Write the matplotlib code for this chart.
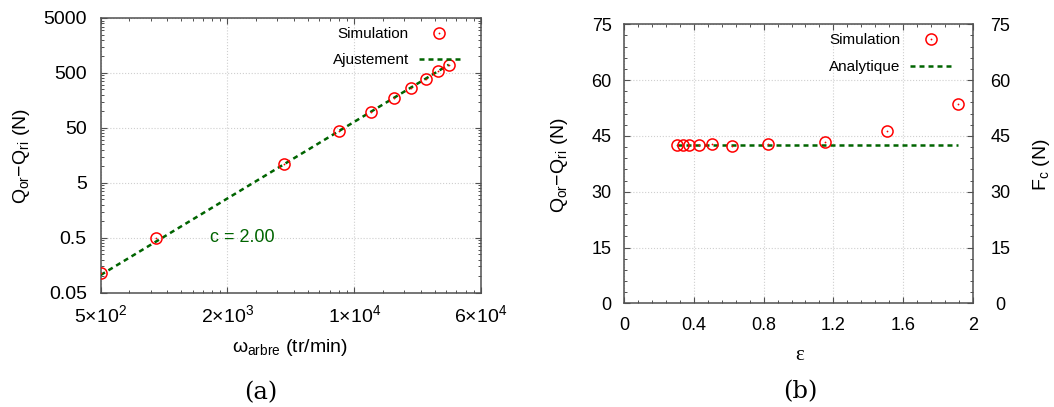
import matplotlib
matplotlib.use('Agg')
import matplotlib.pyplot as plt
import numpy as np
from matplotlib.ticker import FixedLocator, FixedFormatter, NullFormatter
from matplotlib.legend_handler import HandlerTuple

plt.rcParams['font.family'] = ['Liberation Sans', 'DejaVu Sans']
plt.rcParams['mathtext.default'] = 'regular'

# panel (a): force difference vs shaft speed
omega = [500, 1000, 5000, 10000, 15000, 20000, 25000, 30000, 35000, 40000]
dq_sim = [0.115, 0.49, 10.9, 43.9, 97.3, 173, 269, 393, 542, 706]
omega_fit = [500, 40000]
dq_fit = [0.105, 706]
x_labels_a = [r'$5{\times}10^{2}$', r'$2{\times}10^{3}$', r'$1{\times}10^{4}$', r'$6{\times}10^{4}$']
y_ticks_a = [0.05, 0.5, 5, 50, 500, 5000]
y_labels_a = ['0.05', '0.5', '5', '50', '500', '5000']

# panel (b): force difference vs epsilon
eps = [0.304, 0.339, 0.373, 0.427, 0.503, 0.618, 0.826, 1.150, 1.510, 1.917]
dq_eps = [42.55, 42.55, 42.55, 42.55, 42.74, 42.37, 42.74, 43.36, 46.4, 53.5]
eps_ana = [0.304, 1.917]
dq_ana = [42.55, 42.55]
x_ticks_b = [0, 0.4, 0.8, 1.2, 1.6, 2]
x_labels_b = ['0', '0.4', '0.8', '1.2', '1.6', '2']
y_ticks_b = [0, 15, 30, 45, 60, 75]

W, H = 1054, 407
RED = '#ff0000'
GREEN = '#006400'
FRAME = '#505050'

fig = plt.figure(figsize=(W / 100, H / 100), dpi=100)


def px_axes(l, t, r, b):
    return fig.add_axes([l / W, 1 - b / H, (r - l) / W, (b - t) / H])


def style(ax, size):
    for s in ax.spines.values():
        s.set_color(FRAME)
        s.set_linewidth(1.1)
    ax.tick_params(which='both', direction='in', top=True, right=True, color=FRAME, labelsize=size)
    ax.tick_params(which='major', length=4.5, width=0.8)
    ax.tick_params(which='minor', length=2.2, width=0.7)
    ax.grid(True, which='major', color='#cfcfcf', linestyle=':', linewidth=0.8)


def sim_points(ax, x, y):
    circ, = ax.plot(x, y, 'o', ms=8, mfc='none', mec=RED, mew=1.1, zorder=4)
    dot, = ax.plot(x, y, 'o', ms=1.3, mfc=RED, mec='none', zorder=4)
    return circ, dot


# ---------------- (a)
ax1 = px_axes(100.7, 18, 481, 292.7)
style(ax1, 14)
ax1.set_xscale('log')
ax1.set_yscale('log')
ax1.set_xlim(500, 60000)
ax1.set_ylim(0.05, 5000)

xt = np.geomspace(500, 60000, len(x_labels_a))
ax1.xaxis.set_major_locator(FixedLocator(xt))
ax1.xaxis.set_major_formatter(FixedFormatter(x_labels_a))
xminor = np.concatenate([np.linspace(a, b, 10)[1:-1] for a, b in zip(xt[:-1], xt[1:])])
ax1.xaxis.set_minor_locator(FixedLocator(xminor))
ax1.xaxis.set_minor_formatter(NullFormatter())
ax1.yaxis.set_major_locator(FixedLocator(y_ticks_a))
ax1.yaxis.set_major_formatter(FixedFormatter(y_labels_a))
yminor = [m * k for m in y_ticks_a[:-1] for k in range(2, 10)]
ax1.yaxis.set_minor_locator(FixedLocator(yminor))
ax1.yaxis.set_minor_formatter(NullFormatter())
ax1.tick_params(axis='x', pad=8)
ax1.tick_params(axis='y', pad=10)

fit_line, = ax1.plot(omega_fit, dq_fit, color=GREEN, lw=1.8, dashes=(2.0, 1.6), zorder=3)
c1, d1 = sim_points(ax1, omega, dq_sim)
ax1.text(1980, 0.5, 'c = 2.00', color=GREEN, fontsize=13, va='center', ha='left')
ax1.legend([(c1, d1), fit_line], ['Simulation', 'Ajustement'],
           handler_map={tuple: HandlerTuple(ndivide=1)},
           loc='upper right', bbox_to_anchor=(460 / W, 1 - 27 / H),
           bbox_transform=fig.transFigure, frameon=False, markerfirst=False,
           fontsize=11, handlelength=2.7, handletextpad=0.65, labelspacing=0.78,
           borderpad=0, borderaxespad=0)

fig.text(22 / W, 1 - 156 / H, r'Q$_{or}$−Q$_{ri}$ (N)', rotation=90, ha='center', va='center', fontsize=14)
fig.text(290 / W, 1 - 352 / H, r'ω$_{arbre}$ (tr/min)', ha='center', va='baseline', fontsize=14)
fig.text(260.7 / W, 1 - 392.7 / H, '(a)', ha='center', va='center', fontsize=17.5, family='DejaVu Serif')

# ---------------- (b)
ax2 = px_axes(624.3, 24.3, 972.7, 303.3)
style(ax2, 13)
ax2.set_xlim(0, 2)
ax2.set_ylim(0, 75)
ax2.xaxis.set_major_locator(FixedLocator(x_ticks_b))
ax2.xaxis.set_major_formatter(FixedFormatter(x_labels_b))
ax2.xaxis.set_minor_locator(FixedLocator(np.arange(0, 2.0001, 0.08)))
ax2.yaxis.set_major_locator(FixedLocator(y_ticks_b))
ax2.yaxis.set_minor_locator(FixedLocator(np.arange(0, 75.001, 3)))
ax2.tick_params(axis='x', pad=10)
ax2.tick_params(axis='y', pad=9)

ana_line, = ax2.plot(eps_ana, dq_ana, color=GREEN, lw=1.8, dashes=(2.0, 1.6), zorder=3)
c2, d2 = sim_points(ax2, eps, dq_eps)
ax2.legend([(c2, d2), ana_line], ['Simulation', 'Analytique'],
           handler_map={tuple: HandlerTuple(ndivide=1)},
           loc='upper right', bbox_to_anchor=(952.7 / W, 1 - 33.5 / H),
           bbox_transform=fig.transFigure, frameon=False, markerfirst=False,
           fontsize=11, handlelength=2.8, handletextpad=0.6, labelspacing=0.85,
           borderpad=0, borderaxespad=0)

ax2r = ax2.twinx()
ax2r.set_ylim(0, 75)
ax2r.yaxis.set_major_locator(FixedLocator(y_ticks_b))
ax2r.yaxis.set_minor_locator(FixedLocator(np.arange(0, 75.001, 3)))
for s in ax2r.spines.values():
    s.set_visible(False)
ax2r.tick_params(which='both', direction='in', color=FRAME, labelsize=13, pad=20)
ax2r.tick_params(which='major', length=4.5, width=0.8)
ax2r.tick_params(which='minor', length=2.2, width=0.7)
for lab in ax2r.get_yticklabels():
    lab.set_horizontalalignment('center')

fig.text(559 / W, 1 - 165 / H, r'Q$_{or}$−Q$_{ri}$ (N)', rotation=90, ha='center', va='center', fontsize=14)
fig.text(1041 / W, 1 - 165 / H, r'F$_{c}$ (N)', rotation=90, ha='center', va='center', fontsize=14)
fig.text(799.3 / W, 1 - 360 / H, 'ε', ha='center', va='baseline', fontsize=15, family='Liberation Serif')
fig.text(800 / W, 1 - 392 / H, '(b)', ha='center', va='center', fontsize=17.5, family='DejaVu Serif')

fig.savefig('out.png', dpi=100)
